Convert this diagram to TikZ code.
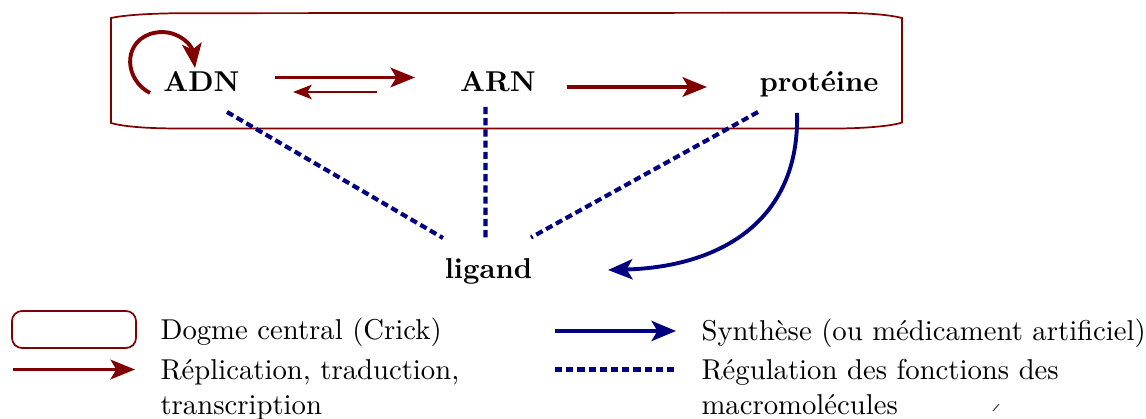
\documentclass[tikz,border=0pt]{standalone}
\usetikzlibrary{arrows.meta,calc}
\definecolor{dred}{RGB}{128,0,0}
\definecolor{dblue}{RGB}{0,0,128}
\tikzset{
  lbl/.style={font=\bfseries, inner sep=0pt, anchor=base},
  legtxt/.style={inner sep=0pt, anchor=base west},
  redarrow/.style={draw=dred, line width=1.35pt, -{Stealth[length=8.5pt,width=6.8pt,inset=2pt]}},
  redsmall/.style={draw=dred, line width=1pt, -{Stealth[length=6.5pt,width=5pt,inset=1.5pt]}},
  bluearrow/.style={draw=dblue, line width=1.35pt, -{Stealth[length=8.5pt,width=7pt,inset=2pt]}},
  regline/.style={draw=dblue, line width=1.45pt, dash pattern=on 2.5pt off 1.4pt},
  frame/.style={draw=dred, line width=0.6pt},
}
\begin{document}
\begin{tikzpicture}[x=0.3485pt,y=-0.3485pt]
\useasboundingbox (0,0) rectangle (1146,419);

% central dogma frame
\draw[frame] (111,18) -- (111,123) .. controls (125,127) and (150,128.5) .. (180,128.5)
  -- (840,128.5) .. controls (875,128) and (895,125) .. (902,122.5)
  -- (902,18) .. controls (890,15) and (870,13) .. (840,12.8)
  -- (180,13.2) .. controls (150,13.5) and (125,15) .. (111,18) -- cycle;

% nodes
\node[lbl] (adn) at (201.5,91.5) {ADN};
\node[lbl] (arn) at (498,91.5) {ARN};
\node[lbl] (prot) at (819,92) {protéine};
\node[lbl] (lig) at (488.5,279) {ligand};

% red arrows
\draw[redarrow] ($(adn.base)+(-51.5,1.5)$) .. controls +(-25,-13) and +(-28,10) .. ($(adn.base)+(-51.5,-57.5)$)
  .. controls +(25,-8) and +(-3,-23) .. ($(adn.base)+(-6.5,-23.5)$);
\draw[redarrow] ($(adn.base)+(73.5,-14)$) -- ($(arn.base)+(-83,-14)$);
\draw[redsmall] ($(arn.base)+(-121,0.5)$) -- ($(adn.base)+(91.5,0.5)$);
\draw[redarrow] ($(arn.base)+(69,-4.5)$) -- ($(prot.base)+(-112,-5)$);

% regulation lines
\draw[regline] ($(adn.base)+(25.5,20.5)$) -- ($(lig.base)+(-45.5,-41)$);
\draw[regline] ($(arn.base)+(-12.5,15.5)$) -- ($(lig.base)+(-3,-41.5)$);
\draw[regline] ($(prot.base)+(-61,20)$) -- ($(lig.base)+(42.5,-41.5)$);

% synthesis
\draw[bluearrow] ($(prot.base)+(-22,21)$) .. controls +(3,108) and +(112,-3) .. ($(lig.base)+(119.5,-9)$);

% legend
\node[draw=dred, line width=0.6pt, rounded corners=3.5pt, minimum width=124*0.3485pt, minimum height=37*0.3485pt, inner sep=0pt] (legbox) at (74,329.5) {};
\node[legtxt] (l1) at (160,340) {Dogme central (Crick)};
\node[legtxt] (l2) at (160,380) {Réplication, traduction,};
\node[legtxt] (l3) at (160,415) {transcription};
\coordinate (ra1) at (13,369.5);
\coordinate (ra2) at (135,369.5);
\draw[redarrow] (ra1) -- (ra2);
\node[legtxt] (r1) at (701,341) {Synthèse (ou médicament artificiel)};
\node[legtxt] (r2) at (701,380) {Régulation des fonctions des};
\node[legtxt] (r3) at (701,415) {macromolécules};
\coordinate (ba1) at (555,331);
\coordinate (ba2) at (676,331);
\draw[bluearrow] (ba1) -- (ba2);
\coordinate (da1) at (555,369.5);
\coordinate (da2) at (677,369.5);
\draw[regline] (da1) -- (da2);

% stray mark
\draw[black!70, line width=0.4pt] (993,411) -- (999,404);
\end{tikzpicture}
\end{document}
